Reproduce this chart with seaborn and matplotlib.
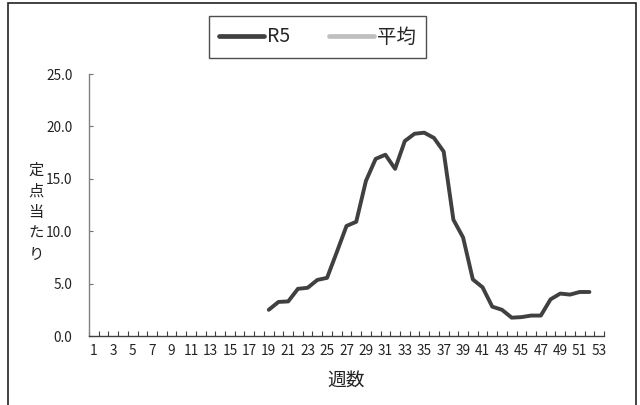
import matplotlib
matplotlib.use("Agg")
import matplotlib.pyplot as plt
import seaborn as sns
import pandas as pd
import numpy as np
from matplotlib.patches import Rectangle

sns.set_theme(style="white")
plt.rcParams['font.family'] = ['Noto Sans CJK JP', 'DejaVu Sans']

weeks = list(range(19, 53))
r5 = [2.5, 3.25, 3.3, 4.5, 4.6, 5.35, 5.55, 8.0, 10.5, 10.9,
      14.8, 16.9, 17.3, 15.95, 18.6, 19.3, 19.4, 18.9, 17.6, 11.1,
      9.4, 5.4, 4.65, 2.8, 2.5, 1.75, 1.8, 1.95, 1.95, 3.5,
      4.05, 3.95, 4.2, 4.2]
avg_weeks = []
avg_vals = []
x_labels = [str(w) for w in range(1, 54, 2)]
y_ticks = [0, 5, 10, 15, 20, 25]

df = pd.DataFrame({"週": weeks, "R5": r5})

fig = plt.figure(figsize=(6.4, 4.05), dpi=100)
ax = fig.add_axes([89/640, 1-336/405, (604-89)/640, (336-74)/405])

sns.lineplot(data=df, x="週", y="R5", ax=ax, color="#404040", linewidth=2.8,
             label="R5")
ax.plot(avg_weeks, avg_vals, color="#BFBFBF", linewidth=2.8, label="平均")

ax.set_xlim(0.5, 53.5)
ax.set_ylim(0, 25)
ax.set_xticks(range(1, 54, 2))
ax.set_xticklabels(x_labels)
ax.set_xticks(np.arange(0.5, 54, 1), minor=True)
ax.tick_params(axis='x', which='major', length=0, pad=6, labelsize=9.8, colors='#222222')
ax.tick_params(axis='x', which='minor', length=3.5, direction='in', width=0.8,
               color='#404040', bottom=True)
ax.set_yticks(y_ticks)
ax.set_yticklabels([f"{v:.1f}" for v in y_ticks])
ax.tick_params(axis='y', which='major', length=3, direction='in', width=0.8,
               color='#707070', pad=12, labelsize=9.8, labelcolor='#222222', left=True)

for s in ['top', 'right']:
    ax.spines[s].set_visible(False)
ax.spines['left'].set_color('#808080')
ax.spines['left'].set_linewidth(1.0)
ax.spines['bottom'].set_color('#404040')
ax.spines['bottom'].set_linewidth(1.0)

ax.set_xlabel("週数", fontsize=13.5, labelpad=8, color='#222222')
ax.set_ylabel("")
fig.text(36/640, 1-212/405, "定\n点\n当\nた\nり", fontsize=11, ha='center',
         va='center', linespacing=1.3, color='#222222')

leg = ax.legend(loc='center', bbox_to_anchor=((317.5-89)/515, (336-37)/262),
                ncol=2, frameon=True, fancybox=False, fontsize=14, handlelength=2.3,
                handletextpad=0.15, columnspacing=2.0, borderpad=0.55)
leg.get_frame().set_edgecolor('#222222')
leg.get_frame().set_linewidth(1.0)
for h in leg.get_lines():
    h.set_linewidth(3.4)

fig.patches.append(Rectangle((8/640, -0.05), (636-8)/640, 1-3/405+0.05,
                             transform=fig.transFigure, fill=False,
                             edgecolor='#222222', linewidth=1.2))

fig.savefig("out.png", dpi=100)
